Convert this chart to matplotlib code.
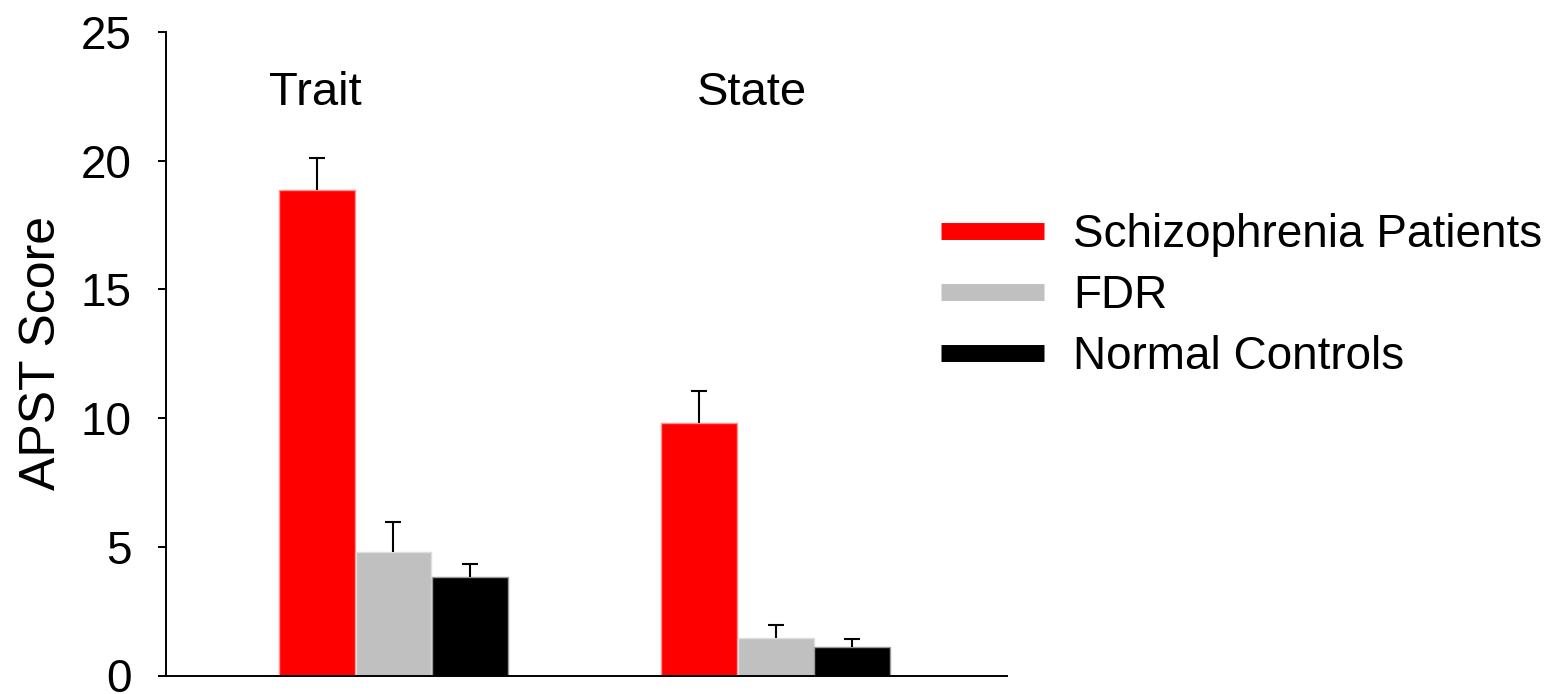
import numpy as np
import matplotlib
matplotlib.use("Agg")
import matplotlib.pyplot as plt
from matplotlib.lines import Line2D

plt.rcParams["font.family"] = ["Liberation Sans", "DejaVu Sans"]

# data
conditions = ["Trait", "State"]
groups = ["Schizophrenia Patients", "FDR", "Normal Controls"]
means = {
    "Schizophrenia Patients": [18.86, 9.82],
    "FDR": [4.81, 1.45],
    "Normal Controls": [3.81, 1.10],
}
errors = {
    "Schizophrenia Patients": [1.23, 1.24],
    "FDR": [1.15, 0.50],
    "Normal Controls": [0.53, 0.30],
}
colors = ["#ff0000", "#c0c0c0", "#000000"]
edges = ["#ff9090", "#dedede", "#9a9a9a"]

label_x = [-0.204, 0.938]
label_y = 22.15

fig = plt.figure(figsize=(15.56, 6.94), dpi=100)
ax = fig.add_axes([166 / 1556, 18.5 / 694, 841 / 1556, 643.5 / 694])

x = np.arange(len(conditions))
step = 0.2
width = 0.198

for i, g in enumerate(groups):
    pos = x + (i - 1) * step
    vals = means[g]
    err = errors[g]
    ax.bar(pos, vals, width, color=colors[i], edgecolor=edges[i], linewidth=1, zorder=2)
    eb = ax.errorbar(pos, vals, yerr=[np.zeros(len(err)), err], fmt="none",
                     ecolor="black", elinewidth=1.5, capsize=6, capthick=1.5, zorder=3)
    # only the upper cap
    eb[1][0].set_visible(False)

for cx, name in zip(label_x, conditions):
    ax.text(cx, label_y, name, ha="center", va="baseline", fontsize=34)

ax.set_xlim(-0.595, 1.605)
ax.set_ylim(0, 25)
ax.set_yticks([0, 5, 10, 15, 20, 25])
ax.set_xticks([])
ax.tick_params(axis="y", direction="out", length=6, width=1.4, pad=19, labelsize=33)
for side in ["top", "right"]:
    ax.spines[side].set_visible(False)
for side in ["left", "bottom"]:
    ax.spines[side].set_linewidth(1.4)

fig.text(42 / 1556, 1 - 353 / 694, "APST Score", rotation=90, ha="center", va="center", fontsize=36)

handles = [Line2D([0], [0], color=c, lw=12.2, solid_capstyle="butt") for c in colors]
fig.legend(handles, groups, loc="upper left", bbox_to_anchor=(941 / 1556, 1 - 213 / 694),
           frameon=False, fontsize=33, handlelength=2.25, handletextpad=0.63,
           labelspacing=0.37, borderpad=0, borderaxespad=0)

fig.savefig("out.png", dpi=100)
